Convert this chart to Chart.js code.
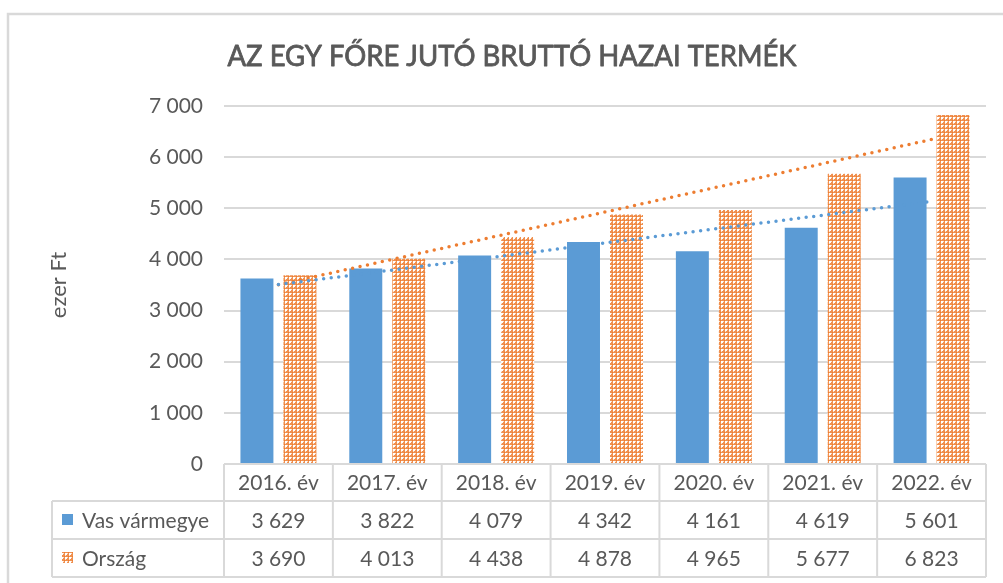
<!DOCTYPE html>
<html>
<head>
<meta charset="utf-8">
<script src="https://cdn.jsdelivr.net/npm/chart.js@4.4.1/dist/chart.umd.min.js"></script>
<style>
html,body{margin:0;padding:0;background:#fff;}
#wrap{position:relative;width:1003px;height:583px;}
</style>
</head>
<body>
<div id="wrap"><canvas id="c" width="1003" height="583"></canvas></div>
<script>
const categories = ['2016. év','2017. év','2018. év','2019. év','2020. év','2021. év','2022. év'];
const seriesNames = ['Vas vármegye','Ország'];
const vasValues = [3629,3822,4079,4342,4161,4619,5601];
const orszagValues = [3690,4013,4438,4878,4965,5677,6823];
const yTicks = [0,1000,2000,3000,4000,5000,6000,7000];
const titleText = 'AZ EGY FŐRE JUTÓ BRUTTÓ HAZAI TERMÉK';
const yTitle = 'ezer Ft';

const BLUE = '#5B9BD5', ORANGE = '#ED7D31', GRID = '#D9D9D9', TXT = '#595959';
const FONT = 'Lato, "Open Sans", sans-serif';

function fmt(v){ return String(v).replace(/\B(?=(\d{3})+(?!\d))/g,' '); }

// Linear trendline (Excel-style) computed from the series values
function trend(vals){
  const n = vals.length; let sx=0, sy=0, sxy=0, sxx=0;
  vals.forEach((v,i)=>{ const x=i+1; sx+=x; sy+=v; sxy+=x*v; sxx+=x*x; });
  const b = (n*sxy - sx*sy)/(n*sxx - sx*sx); const a = (sy - b*sx)/n;
  return vals.map((v,i)=> a + b*(i+1));
}

function makePattern(){
  const p = document.createElement('canvas'); p.width=4; p.height=4;
  const g = p.getContext('2d');
  g.fillStyle = '#F0904F'; g.fillRect(0,0,4,4);
  g.fillStyle = ORANGE; g.fillRect(0,0,1,1);
  g.fillStyle = '#FFFFFF'; g.fillRect(1,1,2,2);
  g.fillStyle = '#FBE0CC'; g.fillRect(3,1,1,1); g.fillRect(1,3,1,1);
  return document.getElementById('c').getContext('2d').createPattern(p,'repeat');
}
const pattern = makePattern();

const decor = {
  id:'decor',
  afterDraw(chart){
    const ctx = chart.ctx, ca = chart.chartArea, xs = chart.scales.x;
    ctx.save();
    // outer chart border
    ctx.strokeStyle = GRID; ctx.lineWidth = 2.5;
    ctx.beginPath(); ctx.moveTo(8,583); ctx.lineTo(8,14); ctx.lineTo(1003,14); ctx.stroke();
    // title
    ctx.fillStyle = TXT; ctx.strokeStyle = TXT; ctx.textBaseline='middle'; ctx.textAlign='center';
    ctx.font = '28px ' + FONT;
    const tw = ctx.measureText(titleText).width;
    ctx.save(); ctx.translate(512,57); ctx.scale(569/tw,1);
    ctx.lineWidth = 0.8; ctx.lineJoin = 'round';
    ctx.fillText(titleText,0,0); ctx.strokeText(titleText,0,0); ctx.restore();
    // y title
    ctx.save(); ctx.translate(59,285); ctx.rotate(-Math.PI/2);
    ctx.font = '22px ' + FONT; ctx.fillText(yTitle,0,0); ctx.restore();
    // data table
    const rows = [464,501,539,577];
    const labelLeft = 52;
    const n = categories.length;
    const cw = (ca.right - ca.left)/n;
    ctx.strokeStyle = GRID; ctx.lineWidth = 2;
    ctx.beginPath();
    ctx.moveTo(ca.left,rows[0]); ctx.lineTo(ca.right,rows[0]);
    for(let r=1;r<4;r++){ ctx.moveTo(labelLeft,rows[r]); ctx.lineTo(ca.right,rows[r]); }
    ctx.moveTo(labelLeft,rows[1]); ctx.lineTo(labelLeft,rows[3]);
    for(let i=0;i<=n;i++){ const x = ca.left + i*cw; ctx.moveTo(x,rows[0]); ctx.lineTo(x,rows[3]); }
    ctx.stroke();
    ctx.fillStyle = TXT; ctx.font = '21px ' + FONT; ctx.textAlign='center'; ctx.textBaseline='middle';
    const labels = xs.getLabels();
    labels.forEach((lab,i)=>{
      const x = xs.getPixelForValue(i);
      ctx.fillText(lab, x, (rows[0]+rows[1])/2+1);
      ctx.fillText(fmt(vasValues[i]), x, (rows[1]+rows[2])/2+1);
      ctx.fillText(fmt(orszagValues[i]), x, (rows[2]+rows[3])/2+1);
    });
    // row headers with legend keys
    ctx.textAlign='left';
    const keys = [BLUE, pattern];
    seriesNames.forEach((nm,r)=>{
      const cy = (rows[r+1]+rows[r+2])/2;
      ctx.fillStyle = keys[r]; ctx.fillRect(62, cy-6, 11, 11);
      ctx.fillStyle = TXT; ctx.fillText(nm, 82, cy+1);
    });
    ctx.restore();
  }
};

new Chart(document.getElementById('c'), {
  type:'bar',
  data:{
    labels: categories,
    datasets:[
      {label:seriesNames[0], data:vasValues, backgroundColor:BLUE, order:2,
       categoryPercentage:0.79, barPercentage:0.767},
      {label:seriesNames[1], data:orszagValues, backgroundColor:pattern, order:2,
       categoryPercentage:0.79, barPercentage:0.767},
      {type:'line', label:'Lineáris (Vas vármegye)', data:trend(vasValues), borderColor:BLUE,
       borderWidth:3.5, borderDash:[0,7.6], borderCapStyle:'round', pointRadius:0, fill:false, order:0, tension:0},
      {type:'line', label:'Lineáris (Ország)', data:trend(orszagValues), borderColor:ORANGE,
       borderWidth:3.5, borderDash:[0,7.6], borderCapStyle:'round', pointRadius:0, fill:false, order:0, tension:0}
    ]
  },
  options:{
    responsive:false, animation:false, devicePixelRatio:1,
    layout:{padding:{left:0,top:106,right:17,bottom:0}},
    plugins:{legend:{display:false}, title:{display:false}, tooltip:{enabled:false}},
    scales:{
      x:{grid:{display:false}, border:{display:false}, ticks:{display:false},
         afterFit(s){ s.height = 119; }},
      y:{min:0, max:7000, afterFit(s){ s.width = 224; },
         afterBuildTicks(s){ s.ticks = yTicks.map(v=>({value:v})); },
         grid:{color:GRID, lineWidth:2, drawTicks:false},
         border:{display:false},
         ticks:{padding:21, color:TXT, font:{family:'Lato', size:21}, callback:(v)=>fmt(v)}}
    }
  },
  plugins:[decor]
});
</script>
</body>
</html>
